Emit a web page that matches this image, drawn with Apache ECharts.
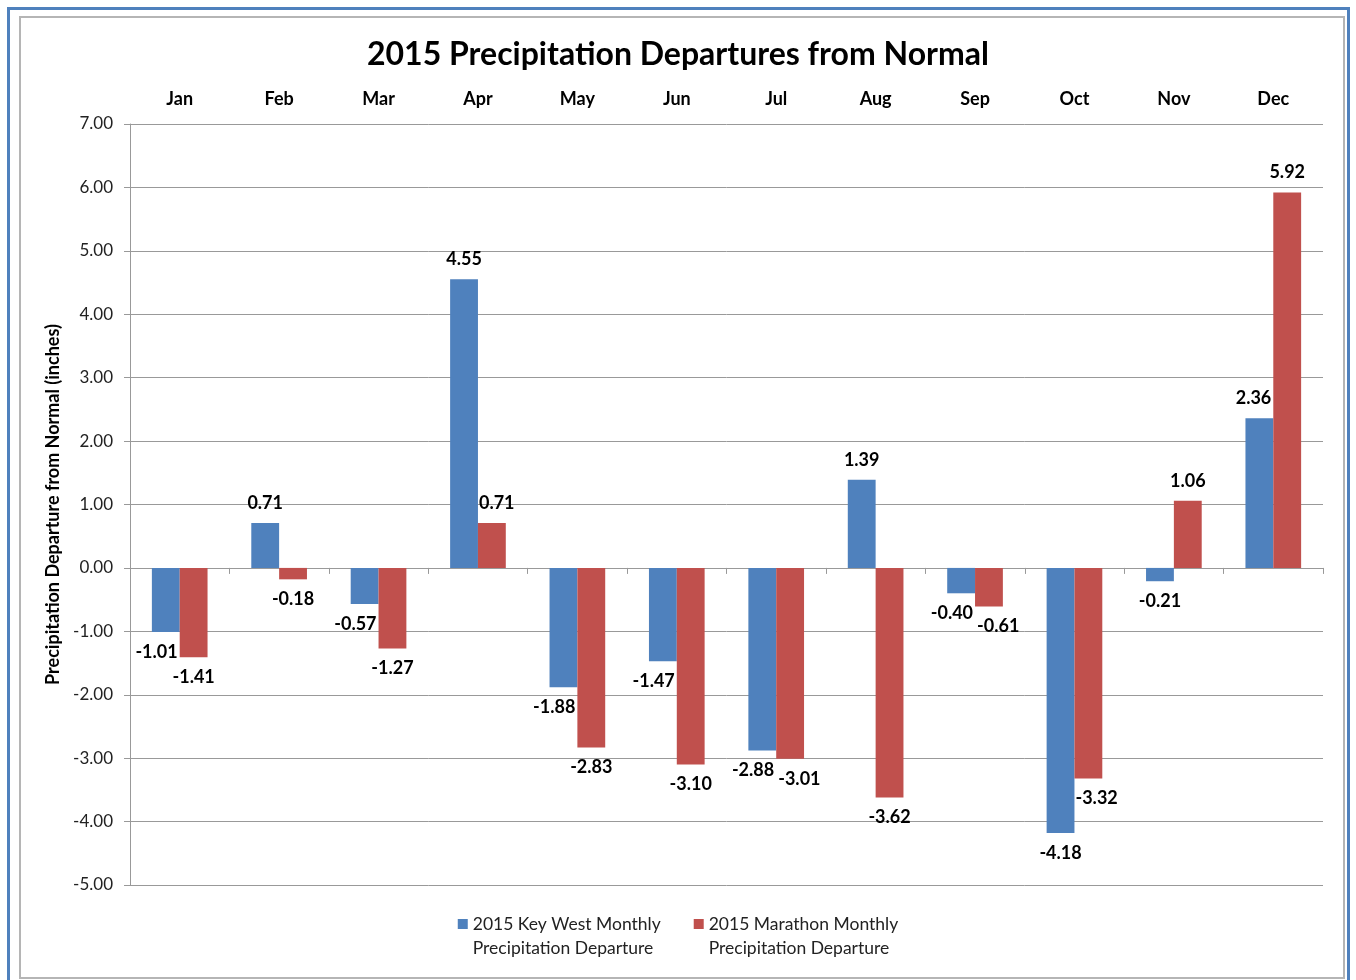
<!DOCTYPE html>
<html>
<head>
<meta charset="utf-8">
<script src="https://cdn.jsdelivr.net/npm/echarts@6/dist/echarts.min.js"></script>
<style>
  html, body { margin: 0; padding: 0; background: #fff; }
  #chart { position: absolute; left: 0; top: 0; width: 1356px; height: 980px; }
  .outer { position: absolute; left: 7px; top: 7px; width: 1343px; height: 990px; border: 3px solid #4F81BD; box-sizing: border-box; pointer-events: none; }
  .inner { position: absolute; left: 19px; top: 16px; width: 1326px; height: 963px; border: 2px solid #b5b5b5; box-sizing: border-box; pointer-events: none; }
</style>
</head>
<body>
<div id="chart"></div>
<div class="outer"></div>
<div class="inner"></div>
<script>
const months = ['Jan','Feb','Mar','Apr','May','Jun','Jul','Aug','Sep','Oct','Nov','Dec'];
const keyWest = [-1.01, 0.71, -0.57, 4.55, -1.88, -1.47, -2.88, 1.39, -0.40, -4.18, -0.21, 2.36];
const marathon = [-1.41, -0.18, -1.27, 0.71, -2.83, -3.10, -3.01, -3.62, -0.61, -3.32, 1.06, 5.92];
const seriesNames = ['2015 Key West Monthly\nPrecipitation Departure', '2015 Marathon Monthly\nPrecipitation Departure'];
const yTicks = { min: -5, max: 7, interval: 1 };

const FONT = 'Lato, "Open Sans", sans-serif';
const LABEL_SIZE = 18;
const LABEL_DIST = 11;
const allValues = [keyWest, marathon];

function toData(arr) {
  return arr.map(v => ({
    value: v,
    label: { position: v < 0 ? 'bottom' : 'top' }
  }));
}
const labelStyle = {
  show: true,
  fontFamily: FONT,
  fontWeight: 'bold',
  fontSize: LABEL_SIZE,
  color: '#000',
  distance: LABEL_DIST,
  formatter: p => p.value.toFixed(2)
};

// measure label text widths (to mimic Excel's nudging of colliding labels)
const mctx = document.createElement('canvas').getContext('2d');
mctx.font = 'bold ' + LABEL_SIZE + 'px ' + FONT;
function textW(t) { return mctx.measureText(t).width; }

const chart = echarts.init(document.getElementById('chart'), null, { renderer: 'canvas' });

function overlaps(a, b) {
  return a.x1 < b.x2 && a.x2 > b.x1 && a.y1 < b.y2 && a.y2 > b.y1;
}
function labelNudge(params) {
  const cat = params.dataIndex;
  const bw = params.rect.width;
  const h = params.labelRect.height;
  const cx = chart.convertToPixel({ xAxisIndex: 1 }, cat);
  const zero = chart.convertToPixel({ yAxisIndex: 0 }, 0);
  const pad = 4;
  const bars = [], lbls = [], tight = [];
  for (let s = 0; s < 2; s++) {
    const v = allValues[s][cat];
    const end = chart.convertToPixel({ yAxisIndex: 0 }, v);
    const x1 = cx - bw + s * bw;
    bars.push({ x1: x1, x2: x1 + bw, y1: Math.min(zero, end), y2: Math.max(zero, end) });
    const w = textW(v.toFixed(2));
    const mid = x1 + bw / 2;
    let top, bot;
    if (v < 0) { top = end + LABEL_DIST; bot = top + h; }
    else { bot = end - LABEL_DIST; top = bot - h; }
    lbls.push({ x1: mid - w / 2, x2: mid + w / 2, y1: top - pad, y2: bot + pad });
    tight.push({ x1: mid - w / 2, x2: mid + w / 2, y1: top, y2: bot });
  }
  let dx0 = 0, dx1 = 0;
  if (overlaps(lbls[0], bars[1])) dx0 = bars[1].x1 - 2 - lbls[0].x2;
  const b = { x1: tight[0].x1 + dx0, x2: tight[0].x2 + dx0, y1: tight[0].y1, y2: tight[0].y2 };
  if (overlaps(lbls[1], bars[0])) dx1 = bars[0].x2 + 1 - lbls[1].x1;
  else if (overlaps(tight[1], b)) dx1 = b.x2 + 4 - tight[1].x1;
  return { dx: params.seriesIndex === 0 ? dx0 : dx1, dy: 0 };
}

chart.setOption({
  backgroundColor: '#fff',
  animation: false,
  title: {
    text: '2015 Precipitation Departures from Normal',
    left: 'center',
    top: 34,
    textStyle: { fontFamily: FONT, fontWeight: 'bold', fontSize: 32, color: '#000' }
  },
  grid: { left: 130, right: 33, top: 124, bottom: 95 },
  legend: {
    bottom: 15,
    left: 'center',
    itemWidth: 10,
    itemHeight: 10,
    itemGap: 33,
    icon: 'rect',
    formatter: name => ' \n' + name,
    textStyle: { fontFamily: FONT, fontSize: 17.5, color: '#222', lineHeight: 24 },
    data: seriesNames
  },
  xAxis: [
    {
      type: 'category',
      data: months,
      position: 'top',
      axisLine: { show: false, onZero: false },
      axisTick: { show: false },
      axisLabel: { fontFamily: FONT, fontWeight: 'bold', fontSize: 18, color: '#000', margin: 16 }
    },
    {
      type: 'category',
      data: months,
      position: 'bottom',
      axisLine: { show: true, onZero: true, lineStyle: { color: '#999', width: 1 } },
      axisTick: { show: true, length: 6, inside: false, lineStyle: { color: '#999' } },
      axisLabel: { show: false }
    }
  ],
  yAxis: {
    type: 'value',
    min: yTicks.min,
    max: yTicks.max,
    interval: yTicks.interval,
    name: 'Precipitation Departure from Normal (inches)',
    nameLocation: 'middle',
    nameGap: 64,
    nameTextStyle: { fontFamily: FONT, fontWeight: 'bold', fontSize: 18, color: '#000' },
    axisLine: { show: true, lineStyle: { color: '#999' } },
    axisTick: { show: true, length: 6, lineStyle: { color: '#999' } },
    axisLabel: { fontFamily: FONT, fontSize: 17, color: '#222', margin: 17, formatter: v => v.toFixed(2) },
    splitLine: { show: true, lineStyle: { color: '#999', width: 1 } }
  },
  series: [
    {
      name: seriesNames[0],
      type: 'bar',
      xAxisIndex: 1,
      data: toData(keyWest),
      itemStyle: { color: '#4F81BD' },
      barGap: '0%',
      barCategoryGap: '44%',
      label: labelStyle,
      labelLayout: labelNudge
    },
    {
      name: seriesNames[1],
      type: 'bar',
      xAxisIndex: 1,
      data: toData(marathon),
      itemStyle: { color: '#C0504D' },
      barGap: '0%',
      barCategoryGap: '44%',
      label: labelStyle,
      labelLayout: labelNudge
    }
  ]
});
</script>
</body>
</html>
